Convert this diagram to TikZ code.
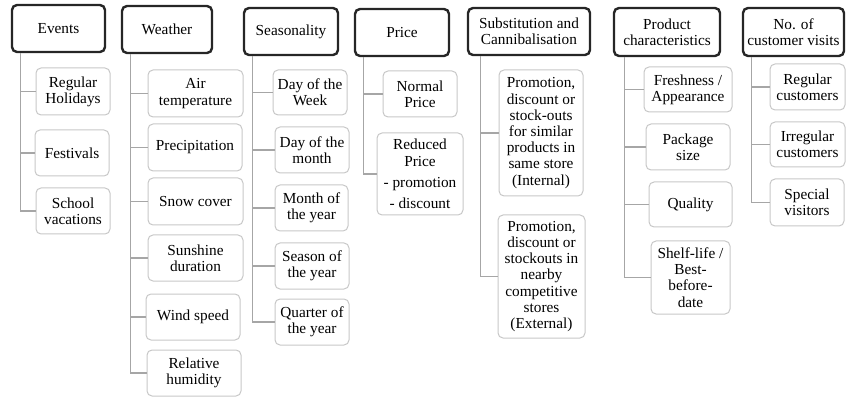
\documentclass[tikz,border=0pt]{standalone}
\usepackage{fontspec}
\setmainfont{LiberationSerif}[Extension=.ttf, UprightFont=*-Regular, BoldFont=*-Bold]
\usetikzlibrary{positioning}
\tikzset{
	header/.style={draw=black!85, line width=2.4pt, rounded corners=5pt, align=center, inner sep=0pt, font=\rmfamily\fontsize{15.3}{16.2}\selectfont},
	leaf/.style={draw=black!22, line width=1pt, rounded corners=5pt, align=center, inner sep=0pt, font=\rmfamily\fontsize{15.3}{16.2}\selectfont},
	branch/.style={draw=black!35, line width=1.2pt}
}
\begin{document}
\begin{tikzpicture}[x=1pt, y=-1pt]

\useasboundingbox (0,0) rectangle (846,398);

\node[header, minimum width=93, minimum height=47] (ev) at (58.5,28.5) {Events};
\node[header, minimum width=90, minimum height=47] (we) at (167,29.5) {Weather};
\node[header, minimum width=94, minimum height=47] (se) at (291,31.5) {Seasonality};
\node[header, minimum width=94, minimum height=47] (pr) at (402,32.5) {Price};
\node[header, minimum width=122, minimum height=47] (su) at (529,31.5) {Substitution and\\Cannibalisation};
\node[header, minimum width=106, minimum height=48] (pc) at (667,32) {Product\\characteristics};
\node[header, minimum width=101, minimum height=48] (cv) at (793.5,32) {No. of\\customer visits};

\node[leaf, minimum width=74, minimum height=47] (evRH) at (73,91.5) {Regular\\Holidays};
\node[leaf, minimum width=74, minimum height=46] (evFe) at (72,153) {Festivals};
\node[leaf, minimum width=74, minimum height=46] (evSV) at (73,211) {School\\vacations};

\node[leaf, minimum width=95, minimum height=47] (weAT) at (195.5,93.5) {Air\\temperature};
\node[leaf, minimum width=94, minimum height=47] (wePr) at (195,147.5) {Precipitation};
\node[leaf, minimum width=95, minimum height=47] (weSC) at (195.5,201.5) {Snow cover};
\node[leaf, minimum width=95, minimum height=46] (weSD) at (195.5,258) {Sunshine\\duration};
\node[leaf, minimum width=94, minimum height=46] (weWS) at (193,317) {Wind speed};
\node[leaf, minimum width=94, minimum height=46] (weRH) at (194,373) {Relative\\humidity};

\node[leaf, minimum width=74, minimum height=45] (seDW) at (310,92.5) {Day of the\\Week};
\node[leaf, minimum width=74, minimum height=46] (seDM) at (312,150) {Day of the\\month};
\node[leaf, minimum width=73, minimum height=46] (seMY) at (311.5,208) {Month of\\the year};
\node[leaf, minimum width=74, minimum height=46] (seSY) at (312,266) {Season of\\the year};
\node[leaf, minimum width=74, minimum height=46] (seQY) at (312,322) {Quarter of\\the year};

\node[leaf, minimum width=74, minimum height=46] (prNP) at (420,94) {Normal\\Price};
\node[leaf, minimum width=86, minimum height=82] (prRP) at (420,174) {Reduced\\Price\\[5pt]- promotion\\[5pt]- discount};

\node[leaf, minimum width=84, minimum height=126] (suIn) at (541,133)
	{Promotion,\\discount or\\stock-outs\\for similar\\products in\\same store\\(Internal)};
\node[leaf, minimum width=87, minimum height=123] (suEx) at (541.5,276.5)
	{Promotion,\\discount or\\stockouts in\\nearby\\competitive\\stores\\(External)};

\node[leaf, minimum width=88, minimum height=45] (pcFA) at (688,89.5) {Freshness /\\Appearance};
\node[leaf, minimum width=84, minimum height=46] (pcPS) at (688,147) {Package\\size};
\node[leaf, minimum width=83, minimum height=45] (pcQu) at (690.5,204.5) {Quality};
\node[leaf, minimum width=79, minimum height=73] (pcSL) at (690.5,277.5) {Shelf-life /\\Best-\\before-\\date};

\node[leaf, minimum width=75, minimum height=46] (cvRC) at (807.5,87) {Regular\\customers};
\node[leaf, minimum width=75, minimum height=45] (cvIC) at (807.5,144.5) {Irregular\\customers};
\node[leaf, minimum width=74, minimum height=47] (cvSV) at (807,202.5) {Special\\visitors};

\draw [branch] ([xshift=10pt]ev.south west) |- (evRH);
\draw [branch] ([xshift=10pt]ev.south west) |- (evFe);
\draw [branch] ([xshift=10pt]ev.south west) |- (evSV);

\draw [branch] ([xshift=10pt]we.south west) |- (weAT);
\draw [branch] ([xshift=10pt]we.south west) |- (wePr);
\draw [branch] ([xshift=10pt]we.south west) |- (weSC);
\draw [branch] ([xshift=10pt]we.south west) |- (weSD);
\draw [branch] ([xshift=10pt]we.south west) |- (weWS);
\draw [branch] ([xshift=10pt]we.south west) |- (weRH);

\draw [branch] ([xshift=10pt]se.south west) |- (seDW);
\draw [branch] ([xshift=10pt]se.south west) |- (seDM);
\draw [branch] ([xshift=10pt]se.south west) |- (seMY);
\draw [branch] ([xshift=10pt]se.south west) |- (seSY);
\draw [branch] ([xshift=10pt]se.south west) |- (seQY);

\draw [branch] ([xshift=10pt]pr.south west) |- (prNP);
\draw [branch] ([xshift=10pt]pr.south west) |- (prRP);

\draw [branch] ([xshift=14pt]su.south west) |- (suIn);
\draw [branch] ([xshift=14pt]su.south west) |- (suEx);

\draw [branch] ([xshift=12pt]pc.south west) |- (pcFA);
\draw [branch] ([xshift=12pt]pc.south west) |- (pcPS);
\draw [branch] ([xshift=12pt]pc.south west) |- (pcQu);
\draw [branch] ([xshift=12pt]pc.south west) |- (pcSL);

\draw [branch] ([xshift=10pt]cv.south west) |- (cvRC);
\draw [branch] ([xshift=10pt]cv.south west) |- (cvIC);
\draw [branch] ([xshift=10pt]cv.south west) |- (cvSV);

\end{tikzpicture}
\end{document}
